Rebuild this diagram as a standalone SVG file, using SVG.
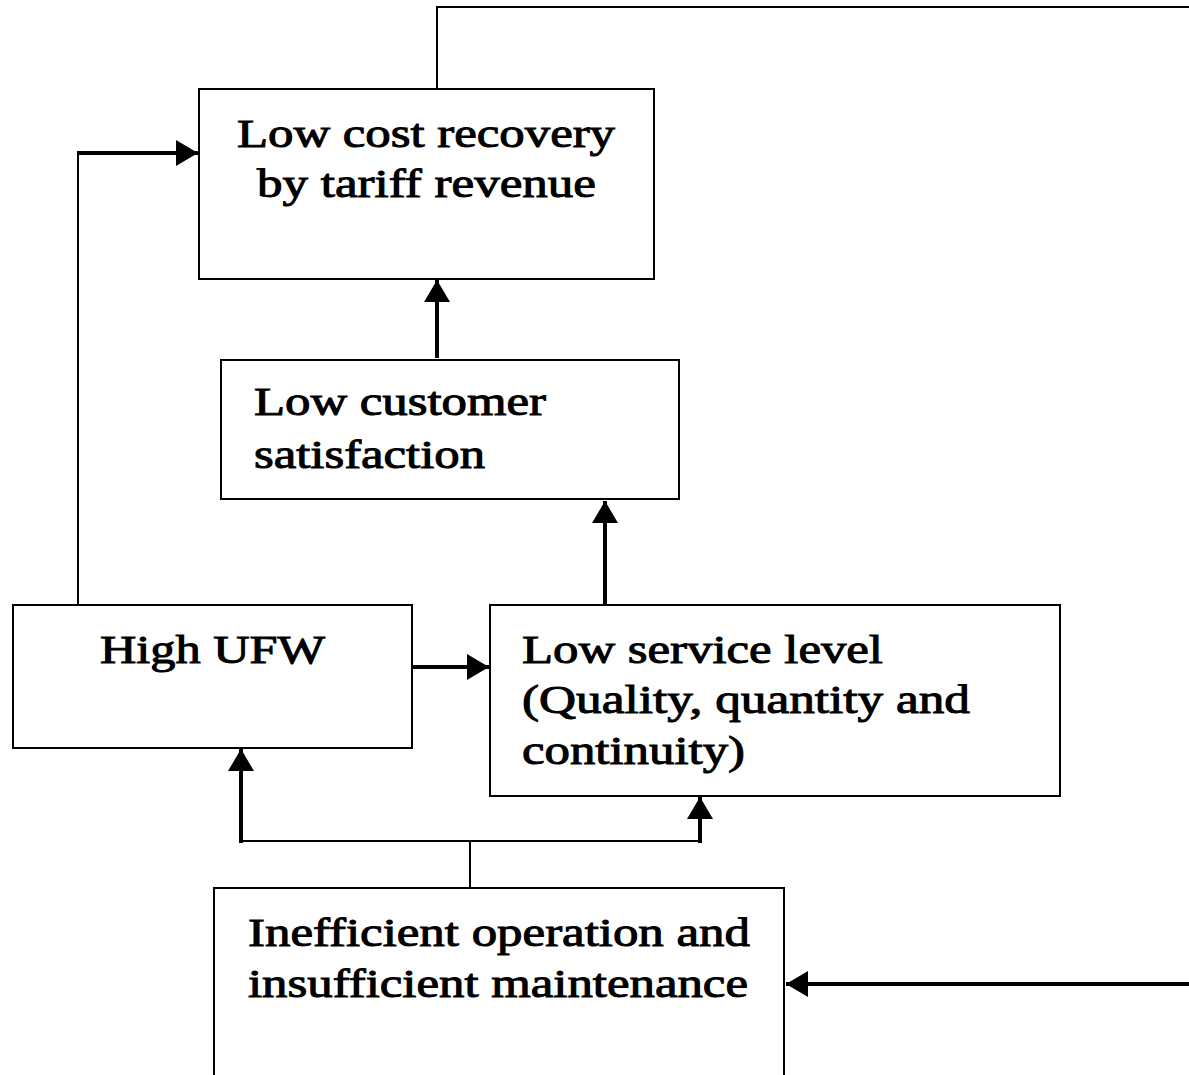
<svg xmlns="http://www.w3.org/2000/svg" width="1189" height="1075" viewBox="0 0 1189 1075">
  <style>
    .box { fill: #fff; stroke: #000; stroke-width: 2; }
    .lbl { font-family: "Liberation Serif", "Times New Roman", serif; font-size: 41px; font-weight: normal; fill: #000; stroke: #000; stroke-width: 1; }
    .wire { fill: none; stroke: #000; stroke-width: 2; }
    .thick { fill: none; stroke: #000; stroke-width: 4; }
  </style>
  <defs>
    <marker id="head" viewBox="0 0 22 26" refX="22" refY="13" markerWidth="22" markerHeight="26" markerUnits="userSpaceOnUse" orient="auto">
      <path d="M0,0 L22,13 L0,26 Z" fill="#000"/>
    </marker>
  </defs>
  <rect width="1189" height="1075" fill="#fff"/>

  <g id="connectors">
    <!-- feedback loop along the top and right -->
    <path class="wire" d="M437,89 V7 H1189"/>
    <path class="thick" d="M1189,984 H786" marker-end="url(#head)"/>
    <!-- High UFW to cost recovery -->
    <path class="wire" d="M78,605 V153"/>
    <path class="thick" d="M77,153 H198" marker-end="url(#head)"/>
    <!-- satisfaction to cost recovery -->
    <path class="thick" d="M437,358 V280" marker-end="url(#head)"/>
    <!-- service level to satisfaction -->
    <path class="thick" d="M605,605 V501" marker-end="url(#head)"/>
    <!-- High UFW to service level -->
    <path class="thick" d="M413,667 H489" marker-end="url(#head)"/>
    <!-- operation branch -->
    <path class="wire" d="M470,888 V841 M240,841 H701"/>
    <path class="thick" d="M241,843 V749" marker-end="url(#head)"/>
    <path class="thick" d="M700,843 V797" marker-end="url(#head)"/>
  </g>

  <g id="cost-recovery">
    <rect class="box" x="199" y="89" width="455" height="190"/>
    <text class="lbl" x="237" y="147" textLength="378" lengthAdjust="spacingAndGlyphs">Low cost recovery</text>
    <text class="lbl" x="257" y="197" textLength="339" lengthAdjust="spacingAndGlyphs">by tariff revenue</text>
  </g>

  <g id="customer-satisfaction">
    <rect class="box" x="221" y="360" width="458" height="139"/>
    <text class="lbl" x="254" y="415" textLength="292" lengthAdjust="spacingAndGlyphs">Low customer</text>
    <text class="lbl" x="254" y="468" textLength="231" lengthAdjust="spacingAndGlyphs">satisfaction</text>
  </g>

  <g id="high-ufw">
    <rect class="box" x="13" y="605" width="399" height="143"/>
    <text class="lbl" x="100" y="663" textLength="225" lengthAdjust="spacingAndGlyphs">High UFW</text>
  </g>

  <g id="service-level">
    <rect class="box" x="490" y="605" width="570" height="191"/>
    <text class="lbl" x="522" y="663" textLength="361" lengthAdjust="spacingAndGlyphs">Low service level</text>
    <text class="lbl" x="522" y="713" textLength="448" lengthAdjust="spacingAndGlyphs">(Quality, quantity and</text>
    <text class="lbl" x="522" y="764" textLength="223" lengthAdjust="spacingAndGlyphs">continuity)</text>
  </g>

  <g id="operation-maintenance">
    <rect class="box" x="214" y="888" width="570" height="200"/>
    <text class="lbl" x="248" y="946" textLength="502" lengthAdjust="spacingAndGlyphs">Inefficient operation and</text>
    <text class="lbl" x="248" y="997" textLength="500" lengthAdjust="spacingAndGlyphs">insufficient maintenance</text>
  </g>
</svg>
